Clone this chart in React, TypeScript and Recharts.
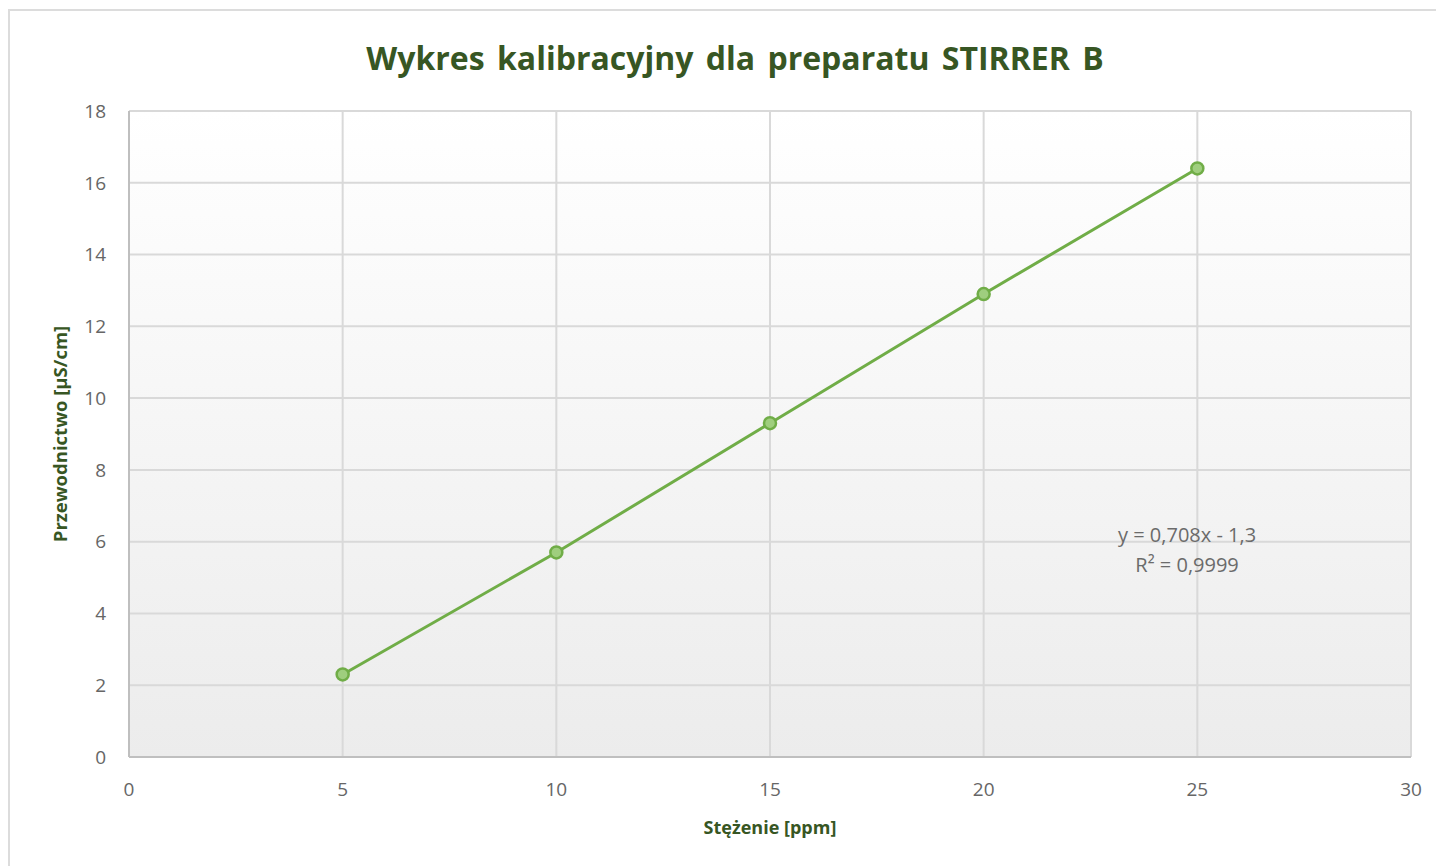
import React from 'react';
import { ComposedChart, Line, XAxis, YAxis, CartesianGrid, ReferenceDot, Label } from 'recharts';

const concentration = [5, 10, 15, 20, 25];
const conductivity = [2.3, 5.7, 9.3, 12.9, 16.4];
const xTicks = [0, 5, 10, 15, 20, 25, 30];
const yTicks = [0, 2, 4, 6, 8, 10, 12, 14, 16, 18];
const equationLines = ['y = 0,708x - 1,3', 'R² = 0,9999'];
const titleText = 'Wykres kalibracyjny dla preparatu STIRRER B';
const xLabel = 'Stężenie [ppm]';
const yLabel = 'Przewodnictwo [µS/cm]';

const data = concentration.map((x, i) => ({ x, y: conductivity[i] }));

const GREEN = '#70ad47';
const TITLE_GREEN = '#375623';
const FONT = 'Open Sans, sans-serif';

const EquationLabel = (props: any) => {
  const vb = props.viewBox || {};
  const cx = vb.x + (vb.width || 0) / 2;
  const cy = vb.y + (vb.height || 0) / 2;
  return (
    <g>
      {equationLines.map((t, i) => (
        <text key={i} x={cx} y={cy + i * 30} textAnchor="middle" dominantBaseline="central"
          fontFamily={FONT} fontSize={20} fill="#6b6b6b">{t}</text>
      ))}
    </g>
  );
};

export default function App() {
  return (
    <div style={{ position: 'relative' }}>
      <svg width={0} height={0} style={{ position: 'absolute' }}>
        <defs>
          <linearGradient id="bgGrad" x1="0" y1="0" x2="0" y2="1">
            <stop offset="0%" stopColor="#ffffff" />
            <stop offset="100%" stopColor="#ececec" />
          </linearGradient>
        </defs>
      </svg>
      <div style={{ marginTop: 1, width: 1434, height: 855, borderTop: '2px solid #dcdcdc', borderLeft: '2px solid #dcdcdc', position: 'relative', background: '#fff' }}>
        <div style={{ position: 'absolute', left: 0, top: 25, width: 1450, textAlign: 'center', fontFamily: FONT, fontWeight: 700, fontSize: 32, color: TITLE_GREEN, wordSpacing: 4 }}>
          {titleText}
        </div>
        <ComposedChart width={1434} height={855} data={data}
          margin={{ top: 100, right: 33, left: 0, bottom: 49 }}>
          <CartesianGrid stroke="#d9d9d9" strokeWidth={2} fill="url(#bgGrad)" fillOpacity={1} />
          <XAxis type="number" dataKey="x" domain={[0, 30]} ticks={xTicks} interval={0}
            axisLine={{ stroke: '#bfbfbf', strokeWidth: 2 }} tickLine={false} tickMargin={20}
            tick={{ fill: '#666666', fontSize: 19, fontFamily: FONT }} height={60}>
            <Label value={xLabel} position="insideBottom" offset={-17}
              style={{ fill: TITLE_GREEN, fontSize: 18, fontWeight: 700, fontFamily: FONT }} />
          </XAxis>
          <YAxis type="number" domain={[0, 18]} ticks={yTicks} interval={0} width={119}
            axisLine={{ stroke: '#bfbfbf', strokeWidth: 2 }} tickLine={false} tickMargin={17}
            tick={{ fill: '#666666', fontSize: 19, fontFamily: FONT }}>
            <Label value={yLabel} angle={-90} position="insideLeft" offset={50}
              style={{ fill: TITLE_GREEN, fontSize: 18.5, fontWeight: 700, fontFamily: FONT, textAnchor: 'middle' }} />
          </YAxis>
          <Line type="linear" dataKey="y" stroke={GREEN} strokeWidth={3} isAnimationActive={false}
            dot={{ r: 6, fill: '#9fce7e', stroke: GREEN, strokeWidth: 2.5 }} activeDot={false} />
          <ReferenceDot x={24.76} y={6.2} r={0} fill="none" stroke="none" label={<EquationLabel />} />
        </ComposedChart>
      </div>
    </div>
  );
}
